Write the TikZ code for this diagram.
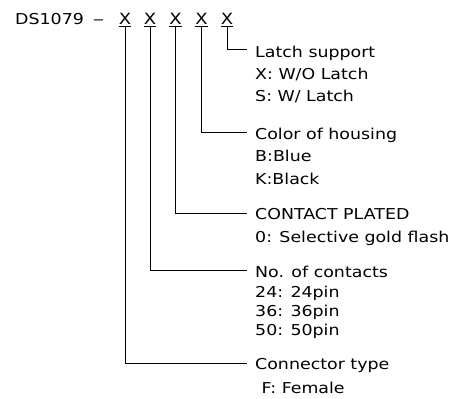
\documentclass[tikz,border=0pt]{standalone}
\usepackage{fontspec}
\newfontfamily\cadfont[FakeStretch=1.16]{DejaVu Sans}
\begin{document}
\begin{tikzpicture}[x=1pt,y=-1pt,
  txt/.style={anchor=base west,inner sep=0pt,font=\cadfont\fontsize{15}{18}\selectfont},
  xsel/.style={anchor=base,inner sep=0pt,font=\cadfont\fontsize{15.5}{18}\selectfont},
  lead/.style={line width=0.85pt,black}]
\useasboundingbox (0,0) rectangle (462,398);
% part number
\node[txt] (pn) at (15,25) {DS1079\hspace{9pt}\scalebox{1.3}[1]{–}};
\node[xsel] (x1) at (125,25) {\underline{X}};
\node[xsel] (x2) at (150,25) {\underline{X}};
\node[xsel] (x3) at (175.5,25) {\underline{X}};
\node[xsel] (x4) at (201.5,25) {\underline{X}};
\node[xsel] (x5) at (227,25) {\underline{X}};
% leader ends
\coordinate (c5) at (247,49.5);
\coordinate (c4) at (247,132.7);
\coordinate (c3) at (247,213.3);
\coordinate (c2) at (247,270.7);
\coordinate (c1) at (247,363.3);
% texts
\node[txt] (t5a) at (255,58) {Latch support};
\node[txt] (t5b) at (255,80) {X: W/O Latch};
\node[txt] (t5c) at (255,102) {S: W/ Latch};
\node[txt] (t4a) at (255,139.3) {Color of housing};
\node[txt] (t4b) at (255,161.7) {B:Blue};
\node[txt] (t4c) at (255,184) {K:Black};
\node[txt] (t3a) at (255,219.5) {CONTACT PLATED};
\node[txt] (t3b) at (255,242) {0: Selective gold flash};
\node[txt] (t2a) at (255,277.5) {No. of contacts};
\node[txt] (t2b) at (255,297) {24: 24pin};
\node[txt] (t2c) at (255,316.3) {36: 36pin};
\node[txt] (t2d) at (255,335.3) {50: 50pin};
\node[txt] (t1a) at (255,369.5) {Connector type};
\node[txt] (t1b) at (261.5,393) {F: Female};
% leaders
\draw[lead] (x5.south) |- (c5);
\draw[lead] (x4.south) |- (c4);
\draw[lead] (x3.south) |- (c3);
\draw[lead] (x2.south) |- (c2);
\draw[lead] (x1.south) |- (c1);
\end{tikzpicture}
\end{document}
